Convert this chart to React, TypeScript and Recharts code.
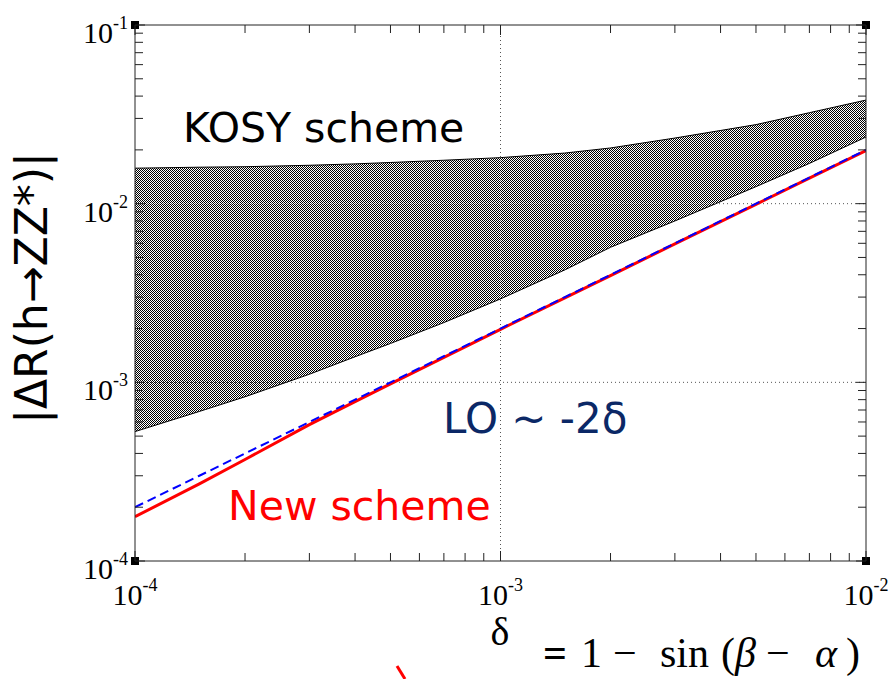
import React from "react";
import {
  ComposedChart,
  Area,
  Line,
  XAxis,
  YAxis,
  ReferenceLine,
  ReferenceDot,
} from "recharts";

// delta = 1 - sin(beta - alpha)
const deltas = [1e-4, 1.5e-4, 2e-4, 3e-4, 4e-4, 5e-4, 7e-4, 1e-3, 1.5e-3, 2e-3, 3e-3, 5e-3, 7e-3, 1e-2];
const kosyHigh = [0.0158, 0.016, 0.0161, 0.0164, 0.0167, 0.017, 0.0175, 0.0181, 0.0192, 0.0205, 0.0233, 0.0277, 0.0323, 0.038];
const kosyLow = [5.3e-4, 6.87e-4, 8.3e-4, 1.11e-3, 1.39e-3, 1.65e-3, 2.16e-3, 2.93e-3, 4.26e-3, 5.7e-3, 8.0e-3, 0.01245, 0.0168, 0.0236];
const newScheme = [1.77e-4, 2.7e-4, 3.7e-4, 5.8e-4, 7.8e-4, 9.8e-4, 1.38e-3, 1.98e-3, 2.97e-3, 3.96e-3, 5.95e-3, 9.92e-3, 1.39e-2, 1.98e-2];
const loValues = [2e-4, 3e-4, 4e-4, 6e-4, 8e-4, 1e-3, 1.4e-3, 2e-3, 3e-3, 4e-3, 6e-3, 1e-2, 1.4e-2, 2e-2];

const xTicks = [
  1e-4, 2e-4, 3e-4, 4e-4, 5e-4, 6e-4, 7e-4, 8e-4, 9e-4,
  1e-3, 2e-3, 3e-3, 4e-3, 5e-3, 6e-3, 7e-3, 8e-3, 9e-3, 1e-2,
];
const yTicks = [
  1e-4, 2e-4, 3e-4, 4e-4, 5e-4, 6e-4, 7e-4, 8e-4, 9e-4,
  1e-3, 2e-3, 3e-3, 4e-3, 5e-3, 6e-3, 7e-3, 8e-3, 9e-3,
  1e-2, 2e-2, 3e-2, 4e-2, 5e-2, 6e-2, 7e-2, 8e-2, 9e-2, 1e-1,
];

const data = deltas.map((d, i) => ({
  delta: d,
  band: [kosyLow[i], kosyHigh[i]],
  newScheme: newScheme[i],
  lo: loValues[i],
}));

const serif = "'Liberation Serif', 'DejaVu Serif', serif";
const sans = "'DejaVu Sans', Verdana, sans-serif";

const isMajor = (v: number) => Math.abs(Math.log10(v) - Math.round(Math.log10(v))) < 1e-6;
const expOf = (v: number) => String(Math.round(Math.log10(v)));

const BottomTick = ({ x, y, payload }: any) => {
  const major = isMajor(payload.value);
  return (
    <g>
      <line x1={x} x2={x} y1={y} y2={y - (major ? 10 : 8)} stroke="#222" />
      {major && (
        <text x={x} y={y + 44} textAnchor="middle" fontFamily={serif} fill="#000">
          <tspan fontSize={30}>10</tspan>
          <tspan fontSize={18} dy={-14}>{expOf(payload.value)}</tspan>
        </text>
      )}
    </g>
  );
};

const TopTick = ({ x, y, payload }: any) => {
  const major = isMajor(payload.value);
  return <line x1={x} x2={x} y1={y} y2={y + (major ? 10 : 8)} stroke="#222" />;
};

const LeftTick = ({ x, y, payload }: any) => {
  const major = isMajor(payload.value);
  return (
    <g>
      <line x1={x} x2={x + (major ? 10 : 8)} y1={y} y2={y} stroke="#222" />
      {major && (
        <text x={x - 7} y={y + 18} textAnchor="end" fontFamily={serif} fill="#000">
          <tspan fontSize={30}>10</tspan>
          <tspan fontSize={18} dy={-14}>{expOf(payload.value)}</tspan>
        </text>
      )}
    </g>
  );
};

const RightTick = ({ x, y, payload }: any) => {
  const major = isMajor(payload.value);
  return <line x1={x} x2={x - (major ? 10 : 8)} y1={y} y2={y} stroke="#222" />;
};

const Corner = ({ cx, cy }: any) => <rect x={cx - 4} y={cy - 4} width={8} height={8} fill="#000" />;

export default function App() {
  return (
    <div style={{ position: "absolute", left: 0, top: 0, width: 891, height: 679, background: "#fff" }}>
      <ComposedChart
        width={891}
        height={679}
        data={data}
        margin={{ top: 20, right: 20, bottom: 78, left: 75 }}
      >
        <defs>
          <pattern id="checker" width="2" height="2" patternUnits="userSpaceOnUse">
            <rect width="2" height="2" fill="#fff" />
            <rect width="1" height="1" fill="#000" />
            <rect x="1" y="1" width="1" height="1" fill="#000" />
          </pattern>
        </defs>
        <XAxis
          dataKey="delta"
          type="number"
          scale="log"
          domain={[1e-4, 1e-2]}
          ticks={xTicks}
          interval={0}
          height={40}
          tickSize={0}
          tickMargin={0}
          tickLine={false}
          tick={<BottomTick />}
          axisLine={{ stroke: "#222" }}
          allowDataOverflow
        />
        <XAxis
          xAxisId="top"
          orientation="top"
          dataKey="delta"
          type="number"
          scale="log"
          domain={[1e-4, 1e-2]}
          ticks={xTicks}
          interval={0}
          height={5}
          tickSize={0}
          tickMargin={0}
          tickLine={false}
          tick={<TopTick />}
          axisLine={{ stroke: "#222" }}
          allowDataOverflow
        />
        <YAxis
          type="number"
          scale="log"
          domain={[1e-4, 1e-1]}
          ticks={yTicks}
          interval={0}
          width={60}
          tickSize={0}
          tickMargin={0}
          tickLine={false}
          tick={<LeftTick />}
          axisLine={{ stroke: "#222" }}
          allowDataOverflow
        />
        <YAxis
          yAxisId="right"
          orientation="right"
          type="number"
          scale="log"
          domain={[1e-4, 1e-1]}
          ticks={yTicks}
          interval={0}
          width={5}
          tickSize={0}
          tickMargin={0}
          tickLine={false}
          tick={<RightTick />}
          axisLine={{ stroke: "#222" }}
          allowDataOverflow
        />

        <ReferenceLine x={1e-3} stroke="#555" strokeDasharray="1 3" />
        <ReferenceLine y={1e-2} stroke="#555" strokeDasharray="1 3" />
        <ReferenceLine y={1e-3} stroke="#555" strokeDasharray="1 3" />

        <Area
          type="linear"
          dataKey="band"
          fill="url(#checker)"
          fillOpacity={1}
          stroke="#000"
          strokeWidth={1}
          isAnimationActive={false}
        />
        <Line
          type="linear"
          dataKey="newScheme"
          stroke="#ff0000"
          strokeWidth={3}
          dot={false}
          isAnimationActive={false}
        />
        <Line
          type="linear"
          dataKey="lo"
          stroke="#0000ff"
          strokeWidth={2}
          strokeDasharray="9 5"
          dot={false}
          isAnimationActive={false}
        />

        <ReferenceDot x={1e-4} y={1e-1} r={4} shape={<Corner />} />
        <ReferenceDot x={1e-2} y={1e-1} r={4} shape={<Corner />} />
        <ReferenceDot x={1e-4} y={1e-4} r={4} shape={<Corner />} />
        <ReferenceDot x={1e-2} y={1e-4} r={4} shape={<Corner />} />

        <text x={183} y={142} fontFamily={sans} fontSize={41} fill="#000">KOSY scheme</text>
        <text x={443} y={433} fontFamily={sans} fontSize={42} fill="#0b2866">LO ~ -2δ</text>
        <text x={228} y={520} fontFamily={sans} fontSize={41} fill="#ff0000">New scheme</text>

        <text transform="translate(47,288) rotate(-90)" textAnchor="middle" fontFamily={sans} fontSize={44} fill="#000">
          |ΔR(h→ZZ*)|
        </text>
        <text x={500} y={645} textAnchor="middle" fontFamily={serif} fontSize={40} fill="#000">δ</text>
        <text y={667} fontFamily={serif} fontSize={42} fill="#000">
          <tspan x={543} fontWeight="bold">=</tspan>
          <tspan x={581}>1</tspan>
          <tspan x={613}>−</tspan>
          <tspan x={660}>sin</tspan>
          <tspan x={721}>(</tspan>
          <tspan x={735} fontStyle="italic">β</tspan>
          <tspan x={766}>−</tspan>
          <tspan x={815} fontStyle="italic">α</tspan>
          <tspan x={846}>)</tspan>
        </text>
        <line x1={397} y1={666} x2={405} y2={679} stroke="#ff0000" strokeWidth={3} />
      </ComposedChart>
    </div>
  );
}
